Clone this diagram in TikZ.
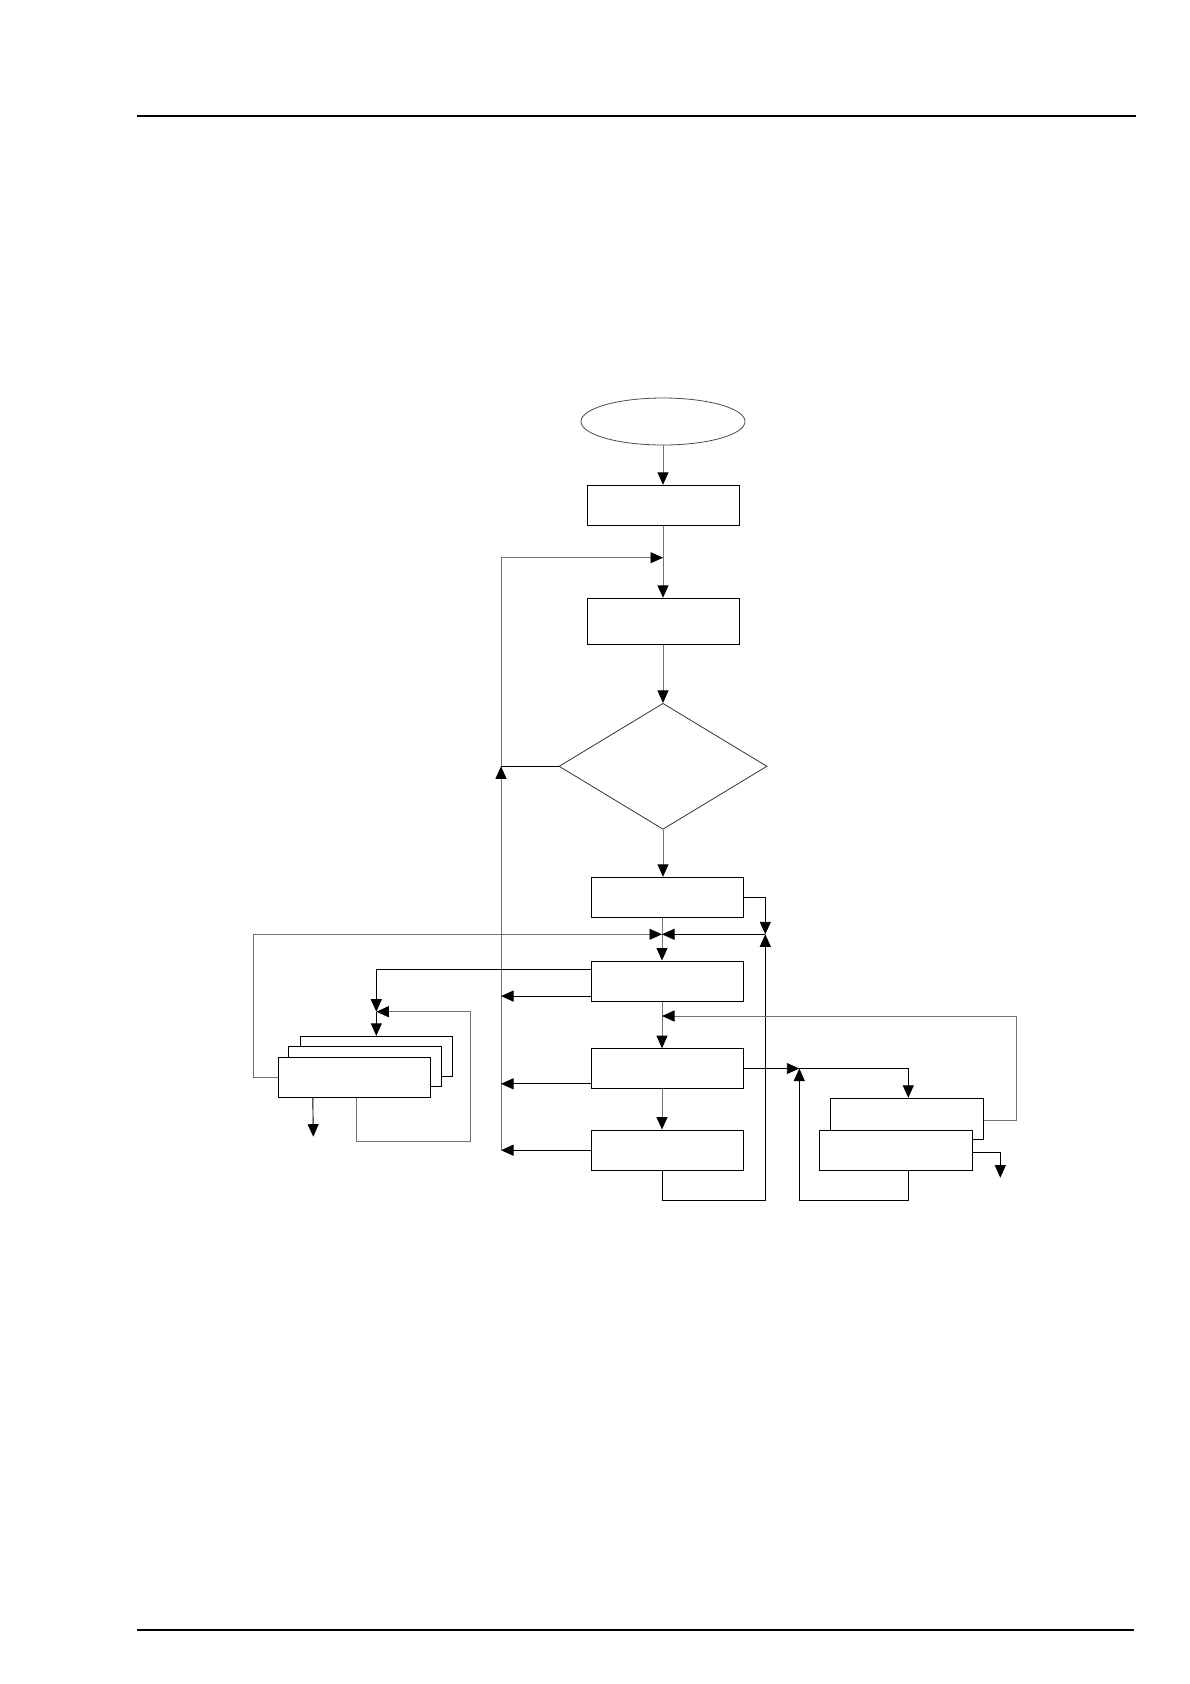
\documentclass[tikz,border=0pt]{standalone}
\usetikzlibrary{arrows.meta,shapes.geometric,calc}
\begin{document}
\begin{tikzpicture}[x=1pt,y=-1pt,
 box/.style={draw,rectangle,fill=white,line width=1pt,inner sep=0pt},
 ln/.style={line width=0.9pt,black},
 gl/.style={line width=0.9pt,black!55},
 arr/.style={-{Triangle[length=12.5pt,width=11pt,color=black]}},
]
\useasboundingbox (0,0) rectangle (1190,1684);
% header and footer rules
\draw[line width=1.1pt] (137,116) -- (1136,116);
\draw[line width=1.1pt] (137,1630) -- (1134,1630);

% nodes
\node[ellipse,draw=black!70,line width=0.8pt,minimum width=164pt,minimum height=47pt,inner sep=0pt] (start) at (663,421.5) {};
\node[box,minimum width=152.5pt,minimum height=40.4pt] (b1) at (663.3,505.5) {};
\node[box,minimum width=152.4pt,minimum height=46pt] (b2) at (663.5,621.3) {};
\node[diamond,draw=black!80,line width=0.8pt,minimum width=208pt,minimum height=126pt,inner sep=0pt] (d) at (663,766.3) {};
\node[box,minimum width=152.4pt,minimum height=40pt] (b3) at (667.5,897.3) {};
\node[box,minimum width=152pt,minimum height=40pt] (b4) at (667.3,981) {};
\node[box,minimum width=152pt,minimum height=39.6pt] (b5) at (667.3,1068.5) {};
\node[box,minimum width=152pt,minimum height=40.3pt] (b6) at (667.3,1150.2) {};
\node[box,minimum width=152pt,minimum height=40.4pt] (s1) at (376.3,1056.5) {};
\node[box,minimum width=153pt,minimum height=40pt] (s2) at (364.8,1066.3) {};
\node[box,minimum width=152.4pt,minimum height=40pt] (s3) at (354.5,1077) {};
\node[box,minimum width=153pt,minimum height=41pt] (r1) at (906.8,1118.8) {};
\node[box,minimum width=153.4pt,minimum height=39.7pt] (r2) at (896,1150.2) {};

% junctions and free ends
\coordinate (j1) at (663,557.7);
\coordinate (j2) at (662,934.3);
\coordinate (j3) at (376.3,1011.7);
\coordinate (j4) at (662,1016);
\coordinate (j5) at (799.3,1068.5);
\coordinate (lv) at (501,766.3);
\coordinate (rv) at (765.3,934.3);
\coordinate (o1) at (313.3,1136.7);
\coordinate (o2) at (1000.3,1177.7);

% main flow
\draw[gl,arr] (start.south) -- (start.south |- b1.north);
\draw[gl] (j1 |- b1.south) -- (j1);
\draw[gl,arr] (j1) -- (j1 |- b2.north);
\draw[gl,arr] (d.north |- b2.south) -- (d.north);
\draw[ln] (d.west) -- (lv);
\draw[gl,arr] (lv) |- (j1);
\draw[gl,arr] (d.south) -- (d.south |- b3.north);
\draw[gl,arr] (j2 |- b3.south) -- (j2 |- b4.north);
\draw[gl] (j2 |- b4.south) -- (j4);
\draw[gl,arr] (j4) -- (j4 |- b5.north);
\draw[gl,arr] (j4 |- b5.south) -- (j4 |- b6.north);

% left collector line
\draw[gl,arr] (lv |- b6.west) -- (lv);
\draw[ln,arr] (b6.west) -- (b6.west -| lv);
\draw[ln,arr] ($(b5.south west)+(0,-5)$) coordinate (b5w) -- (b5w -| lv);
\draw[ln,arr] ($(b4.south west)+(0,-5.4)$) coordinate (b4a) -- (b4a -| lv);

% right return line
\draw[ln,arr] (b3.east) -| (rv);
\draw[ln,arr] (j2 |- b6.south) -- ++(0,29.8) -| (rv);
\draw[ln,arr] (rv) -- (j2);

% left stack
\draw[ln,arr] ($(b4.north west)+(0,8.8)$) -| (j3);
\draw[ln,arr] (j3) -- (j3 |- s1.north);
\draw[gl,arr] ($(s3.south west)+(78.4,0)$) -- ++(0,43.7) -- ++(114.3,0) |- (j3);
\draw[ln,arr] ($(s3.south west)+(35,0)$) -- (o1);
\draw[gl,arr] (s3.west) -- ++(-24.6,0) |- (j2);

% right stack
\draw[ln,arr] (b5.east) -- (j5);
\draw[ln,arr] (j5) -| ($(r1.north)+(1.5,0)$);
\draw[ln,arr] ($(r2.south)+(12.3,0)$) -- ++(0,30) -| (j5);
\draw[gl,arr] ($(r1.south east)+(0,-19.3)$) -- ++(32.4,0) |- (j4);
\draw[ln,arr] ($(r2.east)+(0,2)$) -| (o2);
\end{tikzpicture}
\end{document}
